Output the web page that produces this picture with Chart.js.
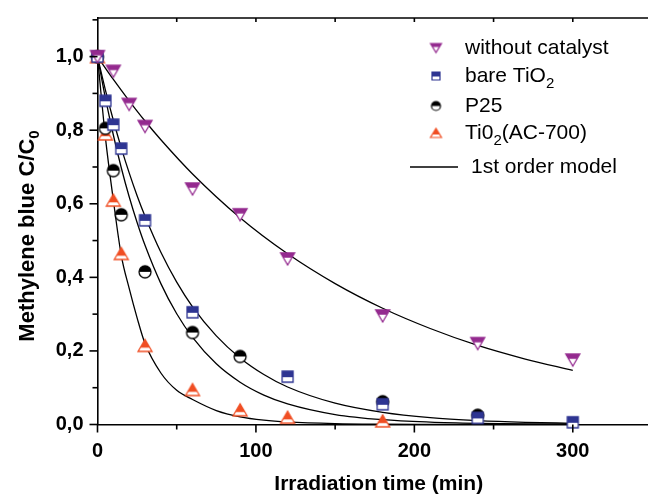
<!DOCTYPE html>
<html><head><meta charset="utf-8">
<script src="https://cdn.jsdelivr.net/npm/chart.js@4.4.1/dist/chart.umd.min.js"></script>
<style>html,body{margin:0;padding:0;background:#fff;overflow:hidden}#wrap{width:660px;height:495px}</style>
</head><body><div id="wrap"><canvas id="c" width="660" height="495"></canvas></div>
<script>
// ---- measured data ----
const tNoCat = [0, 10, 20, 30, 60, 90, 120, 180, 240, 300];
const cNoCat = [1.0, 0.96, 0.87, 0.81, 0.64, 0.57, 0.45, 0.295, 0.22, 0.175];
const tBare = [0, 5, 10, 15, 30, 60, 120, 180, 240, 300];
const cBare = [1.0, 0.88, 0.815, 0.75, 0.555, 0.305, 0.13, 0.055, 0.018, 0.006];
const tP25 = [0, 5, 10, 15, 30, 60, 90, 180, 240];
const cP25 = [1.0, 0.805, 0.69, 0.57, 0.415, 0.25, 0.185, 0.062, 0.025];
const tAC = [0, 5, 10, 15, 30, 60, 90, 120, 180];
const cAC = [1.0, 0.79, 0.61, 0.465, 0.215, 0.095, 0.04, 0.02, 0.01];
// 1st order model curves
const tFitNoCat = [0, 10, 20, 30, 40, 60, 90, 120, 150, 180, 210, 240, 270, 300];
const fitNoCat = [1.0, 0.938, 0.880, 0.825, 0.774, 0.681, 0.562, 0.464, 0.383, 0.316, 0.261, 0.215, 0.178, 0.147];
const tFit = [0, 5, 10, 15, 20, 25, 30, 40, 50, 60, 75, 90, 105, 120, 150, 180, 210, 240, 270, 300];
const fitBare = [1.0, 0.909, 0.827, 0.752, 0.684, 0.622, 0.566, 0.468, 0.387, 0.320, 0.241, 0.181, 0.136, 0.102, 0.058, 0.033, 0.0185, 0.0105, 0.0059, 0.0033];
const fitP25 = [1.0, 0.887, 0.787, 0.698, 0.619, 0.549, 0.487, 0.383, 0.301, 0.237, 0.165, 0.115, 0.080, 0.056, 0.027, 0.013, 0.0065, 0.0032, 0.0015, 0.0007];
const fitAC = [1.0, 0.78, 0.61, 0.46, 0.37, 0.29, 0.22, 0.14, 0.093, 0.068, 0.038, 0.021, 0.012, 0.007, 0.0025, 0.001, 0.0005, 0.0002, 0.0001, 0.0];
const xTicks = [0, 100, 200, 300];
const yTicks = [0.0, 0.2, 0.4, 0.6, 0.8, 1.0];

const PURPLE = '#942a8f', BLUE = '#2e3592', BLACK = '#000000', ORANGE = '#f04e23';
const FONT = '"Liberation Sans", Arial, Helvetica, sans-serif';

function marker(shape, color, w, hgt, lw, fillFrac) {
  const pad = 2;
  const c = document.createElement('canvas');
  c.width = Math.ceil(w + pad * 2); c.height = Math.ceil(hgt + pad * 2);
  const g = c.getContext('2d');
  const cx = c.width / 2, cy = c.height / 2, hw = w / 2, hh = hgt / 2;
  function path() {
    g.beginPath();
    if (shape === 'down') { g.moveTo(cx - hw, cy - hh); g.lineTo(cx + hw, cy - hh); g.lineTo(cx, cy + hh); g.closePath(); }
    else if (shape === 'up') { g.moveTo(cx - hw, cy + hh); g.lineTo(cx + hw, cy + hh); g.lineTo(cx, cy - hh); g.closePath(); }
    else if (shape === 'square') { g.rect(cx - hw, cy - hh, w, hgt); }
    else { g.arc(cx, cy, hw, 0, Math.PI * 2); }
  }
  g.fillStyle = '#fff'; path(); g.fill();
  g.save(); g.beginPath(); g.rect(0, 0, c.width, cy - hh + hgt * fillFrac); g.clip();
  g.fillStyle = color; path(); g.fill(); g.restore();
  g.strokeStyle = color; g.lineWidth = lw; path(); g.stroke();
  return c;
}
const mDown = marker('down', PURPLE, 14, 12, 1.3, 0.4);
const mSq = marker('square', BLUE, 11, 11, 1.3, 0.55);
const mCirc = marker('circle', BLACK, 12, 12, 1.3, 0.5);
const mUp = marker('up', ORANGE, 14, 12, 1.3, 0.68);
const lDown = marker('down', PURPLE, 11, 9, 1.2, 0.4);
const lSq = marker('square', BLUE, 8, 8, 1.2, 0.55);
const lCirc = marker('circle', BLACK, 9, 9, 1.2, 0.5);
const lUp = marker('up', ORANGE, 11, 9, 1.2, 0.68);

const pts = (xs, ys) => xs.map((v, i) => ({x: v, y: ys[i]}));
function scat(xs, ys, img) {
  return {data: pts(xs, ys), showLine: false, pointStyle: img, pointRadius: 7, pointHoverRadius: 7, clip: false};
}
function fit(xs, ys) {
  return {data: pts(xs, ys), showLine: true, pointRadius: 0, borderColor: '#000', borderWidth: 1.3,
    cubicInterpolationMode: 'monotone', fill: false};
}

const axesPlugin = {
  id: 'axesDeco',
  afterDraw(chart) {
    const {ctx, chartArea: a, scales: {x, y}} = chart;
    ctx.save();
    ctx.strokeStyle = '#000'; ctx.lineWidth = 1.6;
    const ln = (x1, y1, x2, y2) => { ctx.beginPath(); ctx.moveTo(x1, y1); ctx.lineTo(x2, y2); ctx.stroke(); };
    // top frame
    ln(a.left, a.top, a.right, a.top);
    for (let v = 0; v <= x.max; v += 50) {
      const px = x.getPixelForValue(v);
      ln(px, a.bottom, px, a.bottom + (v % 100 === 0 ? 8 : 5));
      if (v > 0) ln(px, a.top, px, a.top + 4);
    }
    for (let i = 0; i <= 11; i++) {
      const py = y.getPixelForValue(i / 10);
      ln(a.left, py, a.left - (i % 2 === 0 ? 8 : 5), py);
    }
    // axis titles
    ctx.fillStyle = '#000';
    ctx.font = 'bold 21px ' + FONT;
    ctx.textAlign = 'center'; ctx.textBaseline = 'middle';
    ctx.fillText('Irradiation time (min)', (a.left + a.right) / 2 + 4, 484);
    ctx.save();
    ctx.translate(26, 236); ctx.rotate(-Math.PI / 2);
    ctx.font = 'bold 22px ' + FONT;
    const main = 'Methylene blue C/C';
    ctx.textAlign = 'left'; ctx.textBaseline = 'alphabetic';
    const wMain = ctx.measureText(main).width;
    ctx.font = 'bold 15px ' + FONT;
    const wSub = ctx.measureText('0').width;
    const x0 = -(wMain + wSub) / 2;
    ctx.font = 'bold 22px ' + FONT;
    ctx.fillText(main, x0, 8);
    ctx.font = 'bold 15px ' + FONT;
    ctx.fillText('0', x0 + wMain, 13);
    ctx.restore();
    // legend
    const items = [
      {img: lDown, parts: [['without catalyst', 0]]},
      {img: lSq, parts: [['bare TiO', 0], ['2', 1]]},
      {img: lCirc, parts: [['P25', 0]]},
      {img: lUp, parts: [['Ti0', 0], ['2', 1], ['(AC-700)', 0]]}
    ];
    const ly = [48, 76, 106, 133];
    ctx.textAlign = 'left'; ctx.textBaseline = 'middle';
    items.forEach((it, i) => {
      ctx.drawImage(it.img, 436 - it.img.width / 2, ly[i] - it.img.height / 2);
      let tx = 465;
      it.parts.forEach(([t, sub]) => {
        ctx.font = (sub ? '15px ' : '21px ') + FONT;
        ctx.fillText(t, tx, ly[i] + (sub ? 8 : 0));
        tx += ctx.measureText(t).width;
      });
    });
    ctx.lineWidth = 1.3;
    ln(410, 167, 458, 167);
    ctx.font = '21px ' + FONT;
    ctx.fillText('1st order model', 471, 167);
    ctx.restore();
  }
};

new Chart(document.getElementById('c'), {
  type: 'scatter',
  data: {
    datasets: [
      scat(tNoCat, cNoCat, mDown),
      scat(tBare, cBare, mSq),
      scat(tP25, cP25, mCirc),
      scat(tAC, cAC, mUp),
      fit(tFitNoCat, fitNoCat),
      fit(tFit, fitBare),
      fit(tFit, fitP25),
      fit(tFit, fitAC)
    ]
  },
  options: {
    responsive: false, animation: false, devicePixelRatio: 1,
    layout: {padding: {left: 0, top: 13, right: 7, bottom: 0}},
    plugins: {legend: {display: false}, tooltip: {enabled: false}},
    scales: {
      x: {
        type: 'linear', min: 0, max: 350,
        afterBuildTicks: s => { s.ticks = xTicks.map(v => ({value: v})); },
        afterFit: s => { s.height = 70.5; },
        ticks: {color: '#000', font: {family: FONT, size: 20, weight: 'bold'}, padding: 7, maxRotation: 0},
        grid: {display: true, drawOnChartArea: false, drawTicks: true, tickLength: 8, tickColor: 'rgba(0,0,0,0)'},
        border: {display: true, color: '#000', width: 1.6}
      },
      y: {
        type: 'linear', min: 0, max: 1.105,
        afterBuildTicks: s => { s.ticks = yTicks.map(v => ({value: v})); },
        afterFit: s => { s.width = 97.5; },
        ticks: {color: '#000', font: {family: FONT, size: 20, weight: 'bold'}, padding: 6,
          callback: v => v.toFixed(1).replace('.', ',')},
        grid: {display: true, drawOnChartArea: false, drawTicks: true, tickLength: 8, tickColor: 'rgba(0,0,0,0)'},
        border: {display: true, color: '#000', width: 1.6}
      }
    }
  },
  plugins: [axesPlugin]
});
</script>
</body></html>
